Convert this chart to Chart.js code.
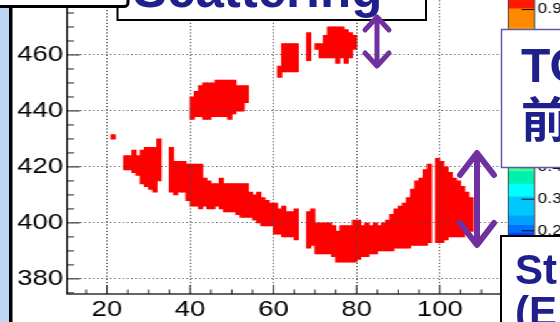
<!DOCTYPE html>
<html>
<head>
<meta charset="utf-8">
<script src="https://cdn.jsdelivr.net/npm/chart.js@4"></script>
<style>
  html, body { margin: 0; padding: 0; background: #fff; }
  body { width: 560px; height: 322px; overflow: hidden; position: relative; }
  #stretch { position: absolute; left: 0; top: -30px; width: 460px; height: 360px; transform: scaleX(1.25); transform-origin: 0 0; }
  #main { position: absolute; left: 0; top: 0; }
  #cbar { position: absolute; left: 406.4px; top: 0; }
  #overlay { position: absolute; left: 0; top: 0; }
</style>
</head>
<body>
<div id="stretch">
  <canvas id="main" width="407" height="360"></canvas>
  <canvas id="cbar" width="50" height="360"></canvas>
</div>
<svg id="overlay" width="560" height="322" xmlns="http://www.w3.org/2000/svg">
  <rect x="0" y="0" width="9" height="322" fill="#bdd7f4"/>
  <rect x="9" y="0" width="3.5" height="322" fill="#000"/>
  <rect x="117.5" y="-40" width="308.5" height="60" fill="#fff" stroke="#000" stroke-width="2"/>
  <text x="133" y="7" font-family="Liberation Sans, Arial, sans-serif" font-weight="bold" font-size="51" fill="#20208c">Scattering</text>
  <rect x="-10" y="-30" width="138" height="36.5" rx="4" fill="#fff" stroke="#000" stroke-width="3"/>
  <g stroke="#7030a0" fill="none" stroke-linecap="round" stroke-linejoin="round">
    <path stroke-width="5" d="M377 18 V65 M365 30 L377 17 L389 30 M365 53 L377 66 L389 53"/>
    <path stroke-width="6" d="M477 154 V243 M460 175 L477 153 L494 175 M460 223 L477 245 L494 223"/>
  </g>
  <rect x="501.5" y="29.5" width="80" height="138" fill="#fff" stroke="#5a5ab0" stroke-width="1.5"/>
  <text x="521" y="82" font-family="Liberation Sans, Arial, sans-serif" font-weight="bold" font-size="48" fill="#20208c">TOF</text>
  <text x="521" y="137" font-family="Noto Sans CJK SC, sans-serif" font-weight="bold" font-size="48" fill="#20208c">前</text>
  <rect x="501" y="236" width="80" height="100" fill="#fff" stroke="#000" stroke-width="2"/>
  <text x="515" y="284" font-family="Liberation Sans, Arial, sans-serif" font-weight="bold" font-size="42" fill="#20208c">St</text>
  <text x="515" y="326" font-family="Liberation Sans, Arial, sans-serif" font-weight="bold" font-size="42" fill="#20208c">(E</text>
</svg>
<script>
// ---- data: 2D histogram occupied bins, per x-bin [xBinLowEdge, yLow, yHigh] ----
const spotBins = [[21, 430, 431.5]];
const leftBlobBins = [
  [24,419,424],[25,419,424],[26,418,426],[27,417,424],[28,414,426],
  [29,413,427],[30,412,427],[31,411,427],[32,415,430]
];
const lowerBandBins = [
  [35,411,427],[36,410,422],[37,411,422],[38,411,422],[39,408,421],[40,406,421],
  [41,406,421],[42,405,421],[43,406,416],[44,405,415],[45,405,414],[46,406,414],
  [47,405,416],[48,404,414],[49,404,414],[50,404,414],[51,403,414],[52,402,414],
  [53,402,414],[54,402,411],[55,401,410],[56,400,411],[57,399,409],[58,399,408],
  [59,399,407],[60,396,407],[61,396,405],[62,395,406],[63,395,404],[64,395,404],
  [65,394,405]
];
const rightBandBins = [
  [68,391,404],[69,392,405],[70,389,400],[71,389,400],[72,389,400],[73,389,400],
  [74,388,399],[75,386,397],[76,386,399],[77,386,399],[78,386,399],[79,386,401],
  [80,387,401],[81,388,399],[82,388,400],[83,389,399],[84,389,400],[85,390,399],
  [86,390,400],[87,390,401],[88,390,403],[89,391,405],[90,391,406],[91,391,407],
  [92,391,409],[93,392,412],[94,392,415],[95,392,416],[96,392,419],[97,393,421]
];
const peakBins = [
  [99,393,423],[100,393,422],[101,394,420],[102,395,418],[103,395,416],
  [104,395,415],[105,395,413],[106,396,411],[107,397,409]
];
const midBlobBins = [
  [40,437,445],[41,438,447],[42,438,449],[43,437,450],[44,437,450],[45,438,450],
  [46,438,451],[47,438,451],[48,438,451],[49,437,451],[50,439,451],[51,440,449],
  [52,440,449],[53,443,449]
];
const upperLeftBins = [[61,452,456],[62,454,464],[63,454,464],[64,454,464],[65,454,464]];
const thinBins = [[68,458,468]];
const upperRightBins = [
  [70,462,464],[71,459,464],[72,459,467],[73,459,470],[74,459,470],
  [75,457,470],[76,459,470],[77,457,469],[78,459,468],[79,462,467]
];

// ---- axes ----
const xTickLabels = [20, 40, 60, 80, 100];
const yTickLabels = [380, 400, 420, 440, 460];
const xRange = [10.4, 116.6];
const yRange = [374.6, 487.5];

// ---- colour palette (z axis) ----
const paletteLo = [0.00, 0.10, 0.18, 0.195, 0.22, 0.25, 0.31, 0.35, 0.39, 0.45, 0.55, 0.65, 0.75, 0.845, 0.905];
const paletteHi = [0.10, 0.18, 0.195, 0.22, 0.25, 0.31, 0.35, 0.39, 0.45, 0.55, 0.65, 0.75, 0.845, 0.905, 1.00];
const paletteColors = ['#3010c0','#1030f0','#0040ff','#0070ff','#00a0ff','#00c8ff','#00ffff','#00f0b0','#40ff90','#80ff40','#d0ff00','#ffe000','#ffa000','#ff8800','#ff1a00'];
const zTickLabels = [0.1, 0.2, 0.3, 0.4, 0.5, 0.6, 0.7, 0.8, 0.9];

const blobs = [spotBins, leftBlobBins, lowerBandBins, rightBandBins, peakBins, midBlobBins, upperLeftBins, thinBins, upperRightBins];

const tickFont = { family: 'Liberation Sans', size: 22 };

const noPad = s => { s.paddingTop = 0; s.paddingBottom = 0; s.paddingLeft = 0; s.paddingRight = 0; };

const frameTicks = {
  id: 'frameTicks',
  afterDraw(chart) {
    const { ctx, chartArea: a, scales: { x, y } } = chart;
    ctx.save();
    ctx.strokeStyle = '#222';
    ctx.lineWidth = 1;
    const line = (x1, y1, x2, y2) => { ctx.beginPath(); ctx.moveTo(x1, y1); ctx.lineTo(x2, y2); ctx.stroke(); };
    for (let v = 15; v <= 115; v += 5) {
      const px = x.getPixelForValue(v);
      line(px, a.bottom, px, a.bottom - (v % 20 === 0 ? 9 : 4.5));
    }
    for (let v = 375; v <= 485; v += 5) {
      const py = y.getPixelForValue(v);
      line(a.left, py, a.left + (v % 20 === 0 ? 10.4 : 5.6), py);
    }
    ctx.lineWidth = 1.3;
    ctx.strokeStyle = '#111';
    ctx.strokeRect(a.left, a.top, a.right - a.left, a.bottom - a.top);
    ctx.restore();
  }
};

new Chart(document.getElementById('main'), {
  type: 'bar',
  data: {
    datasets: blobs.map(b => ({
      data: b.map(([x, lo, hi]) => ({ x: x + 0.5, y: [lo, hi] })),
      backgroundColor: '#ff0000',
      borderWidth: 0,
      grouped: false,
      barPercentage: 1,
      categoryPercentage: 1,
      inflateAmount: 0.45
    }))
  },
  options: {
    responsive: false,
    animation: false,
    devicePixelRatio: 1,
    layout: { padding: { top: 8, right: 0, bottom: 0, left: 0 } },
    plugins: { legend: { display: false }, tooltip: { enabled: false } },
    scales: {
      x: {
        type: 'linear', min: xRange[0], max: xRange[1], offset: false,
        afterBuildTicks: s => { s.ticks = xTickLabels.map(v => ({ value: v })); },
        afterFit: s => { s.height = 36; noPad(s); },
        grid: { color: '#444', lineWidth: 1, drawTicks: false, offset: false, z: 1 },
        border: { display: false, dash: [1.2, 2] },
        ticks: { font: tickFont, color: '#000', padding: 2.5, maxRotation: 0, autoSkip: false, callback: v => String(v) }
      },
      y: {
        type: 'linear', min: yRange[0], max: yRange[1],
        afterBuildTicks: s => { s.ticks = yTickLabels.map(v => ({ value: v })); },
        afterFit: s => { s.width = 53.6; noPad(s); },
        grid: { color: '#444', lineWidth: 1, drawTicks: false, z: 1 },
        border: { display: false, dash: [1, 2.4] },
        ticks: { font: tickFont, color: '#000', padding: 3.2, autoSkip: false, callback: v => String(v) }
      }
    }
  },
  plugins: [frameTicks]
});

const cbFrame = {
  id: 'cbFrame',
  afterDraw(chart) {
    const { ctx, chartArea: a, scales: { y } } = chart;
    ctx.save();
    ctx.strokeStyle = '#000';
    ctx.lineWidth = 1;
    zTickLabels.forEach(v => {
      const py = y.getPixelForValue(v);
      ctx.beginPath(); ctx.moveTo(a.right, py); ctx.lineTo(a.right - 10.4, py); ctx.stroke();
    });
    ctx.strokeStyle = '#444';
    ctx.strokeRect(a.left + 0.5, a.top, a.right - a.left - 0.5, a.bottom - a.top);
    ctx.restore();
  }
};

new Chart(document.getElementById('cbar'), {
  type: 'bar',
  data: {
    labels: ['z'],
    datasets: [{
      data: paletteLo.map((lo, i) => ({ x: 'z', y: [lo, paletteHi[i]] })),
      backgroundColor: paletteColors,
      borderWidth: 0,
      barPercentage: 1,
      categoryPercentage: 1,
      inflateAmount: 0.4
    }]
  },
  options: {
    responsive: false,
    animation: false,
    devicePixelRatio: 1,
    layout: { padding: { top: 8, right: 0, bottom: 36, left: 0 } },
    plugins: { legend: { display: false }, tooltip: { enabled: false } },
    scales: {
      x: { display: false },
      y: {
        position: 'right', min: 0, max: 1,
        afterBuildTicks: s => { s.ticks = zTickLabels.map(v => ({ value: v })); },
        afterFit: s => { s.width = 28.4; noPad(s); },
        grid: { display: false, drawTicks: false },
        border: { display: false },
        ticks: { font: { family: 'Liberation Sans', size: 14 }, color: '#000', padding: 2.4, autoSkip: false, callback: v => Number(v).toFixed(1) }
      }
    }
  },
  plugins: [cbFrame]
});
</script>
</body>
</html>
